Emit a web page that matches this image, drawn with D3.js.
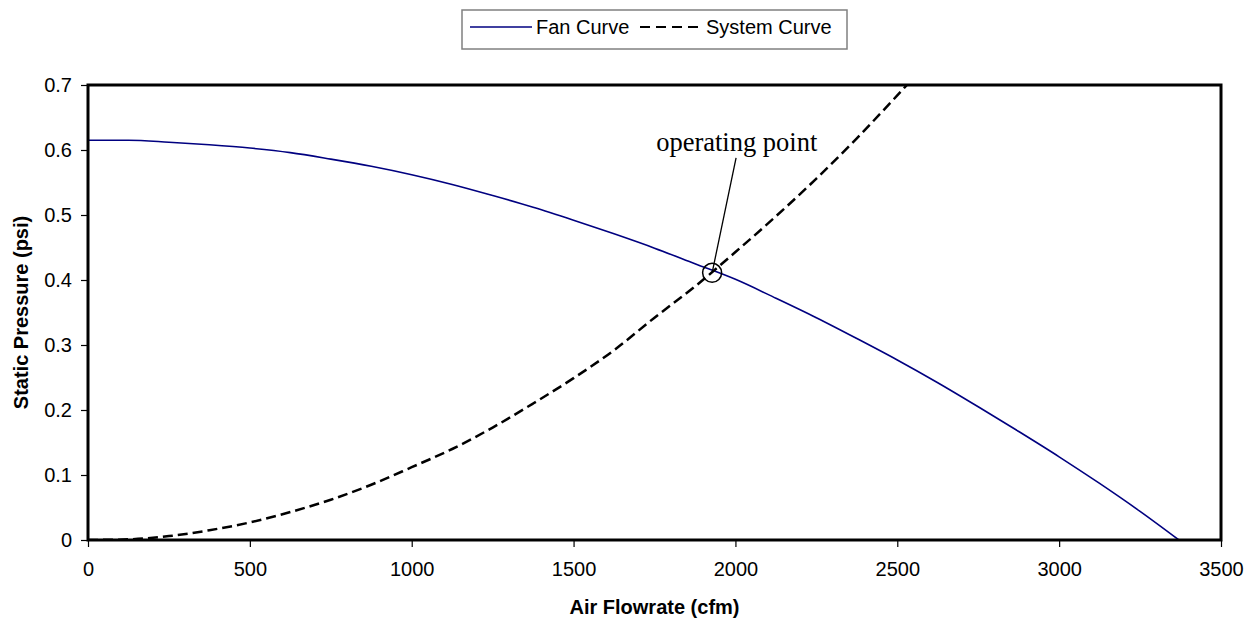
<!DOCTYPE html>
<html>
<head>
<meta charset="utf-8">
<script src="https://cdn.jsdelivr.net/npm/d3@7"></script>
<style>
  body { margin: 0; background: #fff; }
</style>
</head>
<body>
<svg width="1260" height="622" font-family="Arial, 'Liberation Sans', sans-serif"></svg>
<script>
// flowrate (cfm) and pressure (psi)
var fanFlow = [0, 125, 250, 375, 500, 625, 750, 875, 1000, 1125, 1250, 1375, 1500, 1625, 1750, 1875, 2000, 2125, 2250, 2375, 2500, 2625, 2750, 2875, 3000, 3125, 3250, 3370];
var fanPressure = [0.615, 0.615, 0.612, 0.608, 0.603, 0.596, 0.586, 0.575, 0.562, 0.547, 0.530, 0.512, 0.492, 0.471, 0.449, 0.425, 0.401, 0.372, 0.342, 0.310, 0.277, 0.242, 0.205, 0.167, 0.128, 0.087, 0.044, 0];

var sysFlow = [0, 125, 250, 375, 500, 625, 750, 875, 1000, 1125, 1250, 1375, 1500, 1625, 1750, 1875, 2000, 2125, 2250, 2375, 2500, 2625];
var sysPressure = [0, 0.001, 0.006, 0.015, 0.027, 0.043, 0.062, 0.085, 0.112, 0.140, 0.173, 0.210, 0.249, 0.292, 0.342, 0.390, 0.443, 0.498, 0.556, 0.618, 0.684, 0.752];

var xTicks = [0, 500, 1000, 1500, 2000, 2500, 3000, 3500];
var yTicks = [0, 0.1, 0.2, 0.3, 0.4, 0.5, 0.6, 0.7];

var opPoint = [1928, 0.411];
var opLabel = { text: 'operating point', flow: 2004, psi: 0.599, lineFlow: 2002, linePsi: 0.588 };

const svg = d3.select('svg');
const plotLeft = 88, plotTop = 85, plotRight = 1221, plotBottom = 540;

const x = d3.scaleLinear().domain([0, 3500]).range([plotLeft, plotRight]);
const y = d3.scaleLinear().domain([0, 0.7]).range([plotBottom, plotTop]);

svg.append('defs').append('clipPath').attr('id', 'plot')
  .append('rect').attr('x', plotLeft).attr('y', plotTop)
  .attr('width', plotRight - plotLeft).attr('height', plotBottom - plotTop);

// axes
const xAxis = svg.append('g')
  .attr('transform', `translate(0, ${plotBottom})`)
  .call(d3.axisBottom(x).tickValues(xTicks).tickSize(7).tickPadding(15).tickFormat(d3.format('d')));
const yAxis = svg.append('g')
  .attr('transform', `translate(${plotLeft}, 0)`)
  .call(d3.axisLeft(y).tickValues(yTicks).tickSize(7).tickPadding(9).tickFormat(d => d === 0 ? '0' : d3.format('.1f')(d)));

[xAxis, yAxis].forEach(function (a) {
  a.select('.domain').remove();
  a.attr('font-family', null).attr('font-size', 20);
  a.selectAll('text').attr('fill', '#000');
  a.selectAll('line').attr('stroke', '#000').attr('stroke-width', 1.2);
});

// curves
const line = d3.line().curve(d3.curveMonotoneX);

svg.append('path')
  .attr('clip-path', 'url(#plot)')
  .attr('d', line(fanFlow.map((f, i) => [x(f), y(fanPressure[i])])))
  .attr('fill', 'none')
  .attr('stroke', '#000080')
  .attr('stroke-width', 1.6);

svg.append('path')
  .attr('clip-path', 'url(#plot)')
  .attr('d', line(sysFlow.map((f, i) => [x(f), y(sysPressure[i])])))
  .attr('fill', 'none')
  .attr('stroke', '#000')
  .attr('stroke-width', 2.5)
  .attr('stroke-dasharray', '10,5');

// plot frame
svg.append('rect')
  .attr('x', plotLeft).attr('y', plotTop)
  .attr('width', plotRight - plotLeft).attr('height', plotBottom - plotTop)
  .attr('fill', 'none').attr('stroke', '#000').attr('stroke-width', 3);

// operating point annotation
svg.append('circle')
  .attr('cx', x(opPoint[0])).attr('cy', y(opPoint[1])).attr('r', 9.5)
  .attr('fill', 'none').attr('stroke', '#000').attr('stroke-width', 1.5);
svg.append('line')
  .attr('x1', x(opLabel.lineFlow)).attr('y1', y(opLabel.linePsi))
  .attr('x2', x(opPoint[0])).attr('y2', y(opPoint[1]))
  .attr('stroke', '#000').attr('stroke-width', 1.3);
svg.append('text')
  .attr('x', x(opLabel.flow)).attr('y', y(opLabel.psi))
  .attr('text-anchor', 'middle')
  .attr('font-family', "'Liberation Serif', 'Times New Roman', serif")
  .attr('font-size', 26.5)
  .text(opLabel.text);

// axis titles
svg.append('text')
  .attr('x', (plotLeft + plotRight) / 2).attr('y', 614)
  .attr('text-anchor', 'middle')
  .attr('font-size', 20).attr('font-weight', 'bold')
  .text('Air Flowrate (cfm)');
svg.append('text')
  .attr('transform', `translate(28, ${(plotTop + plotBottom) / 2}) rotate(-90)`)
  .attr('text-anchor', 'middle')
  .attr('font-size', 20).attr('font-weight', 'bold')
  .text('Static Pressure (psi)');

// legend
const legend = svg.append('g');
legend.append('rect')
  .attr('x', 462).attr('y', 10).attr('width', 385).attr('height', 39)
  .attr('fill', '#fff').attr('stroke', '#808080').attr('stroke-width', 1.5);
legend.append('line')
  .attr('x1', 470).attr('x2', 532).attr('y1', 27).attr('y2', 27)
  .attr('stroke', '#000080').attr('stroke-width', 1.6);
legend.append('text').attr('x', 536).attr('y', 34).attr('font-size', 20).text('Fan Curve');
legend.append('line')
  .attr('x1', 640).attr('x2', 704).attr('y1', 27).attr('y2', 27)
  .attr('stroke', '#000').attr('stroke-width', 2.2).attr('stroke-dasharray', '10,6');
legend.append('text').attr('x', 706).attr('y', 34).attr('font-size', 20).text('System Curve');
</script>
</body>
</html>
